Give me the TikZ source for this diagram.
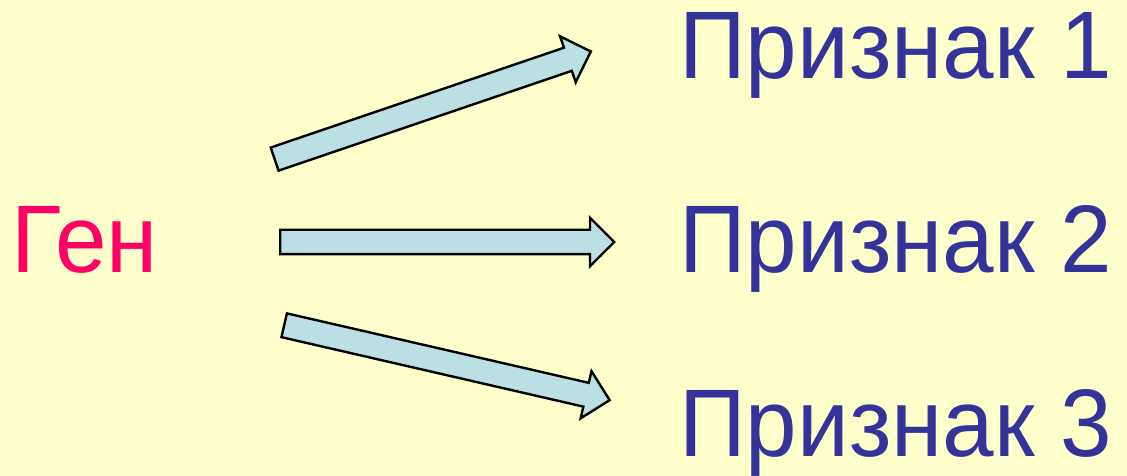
\documentclass[tikz,border=0pt]{standalone}
\usepackage{fontspec}
\setmainfont{Liberation Sans}
\usetikzlibrary{shapes.arrows}

\begin{document}
\begin{tikzpicture}[x=1pt,y=1pt,
  bigtext/.style={inner sep=0,anchor=base west,font=\fontsize{96}{100}\selectfont},
  blockarrow/.style={single arrow,draw=black,line width=2.4pt,fill=powderblue,
    inner xsep=0,inner ysep=11pt,minimum width=46pt,minimum height=334pt,
    single arrow head extend=12pt,single arrow tip angle=90,anchor=tail}]
\definecolor{cream}{HTML}{FFFFCC}
\definecolor{rosered}{HTML}{FF0066}
\definecolor{indigoblue}{HTML}{333399}
\definecolor{powderblue}{HTML}{BBE0E3}
\fill[cream] (0,0) rectangle (1127,476);
\useasboundingbox (0,0) rectangle (1127,476);
\node [bigtext,text=rosered] (gen) at (11,203) {\scalebox{0.965}[1]{Ген}};
  \foreach \num/\ypos in {1/397,2/203,3/19}
  {  \node [bigtext,text=indigoblue] (p\num) at (679,\ypos) {\scalebox{0.965}[1]{Признак \num}};}
  \foreach \num/\xpos/\ypos/\ang in {1/273.5/316.5/18.8,2/279/234/0,3/283/151/-12.96}
  {  \node [blockarrow,rotate=\ang] (a\num) at (\xpos,\ypos) {};}
\end{tikzpicture}
\end{document}
